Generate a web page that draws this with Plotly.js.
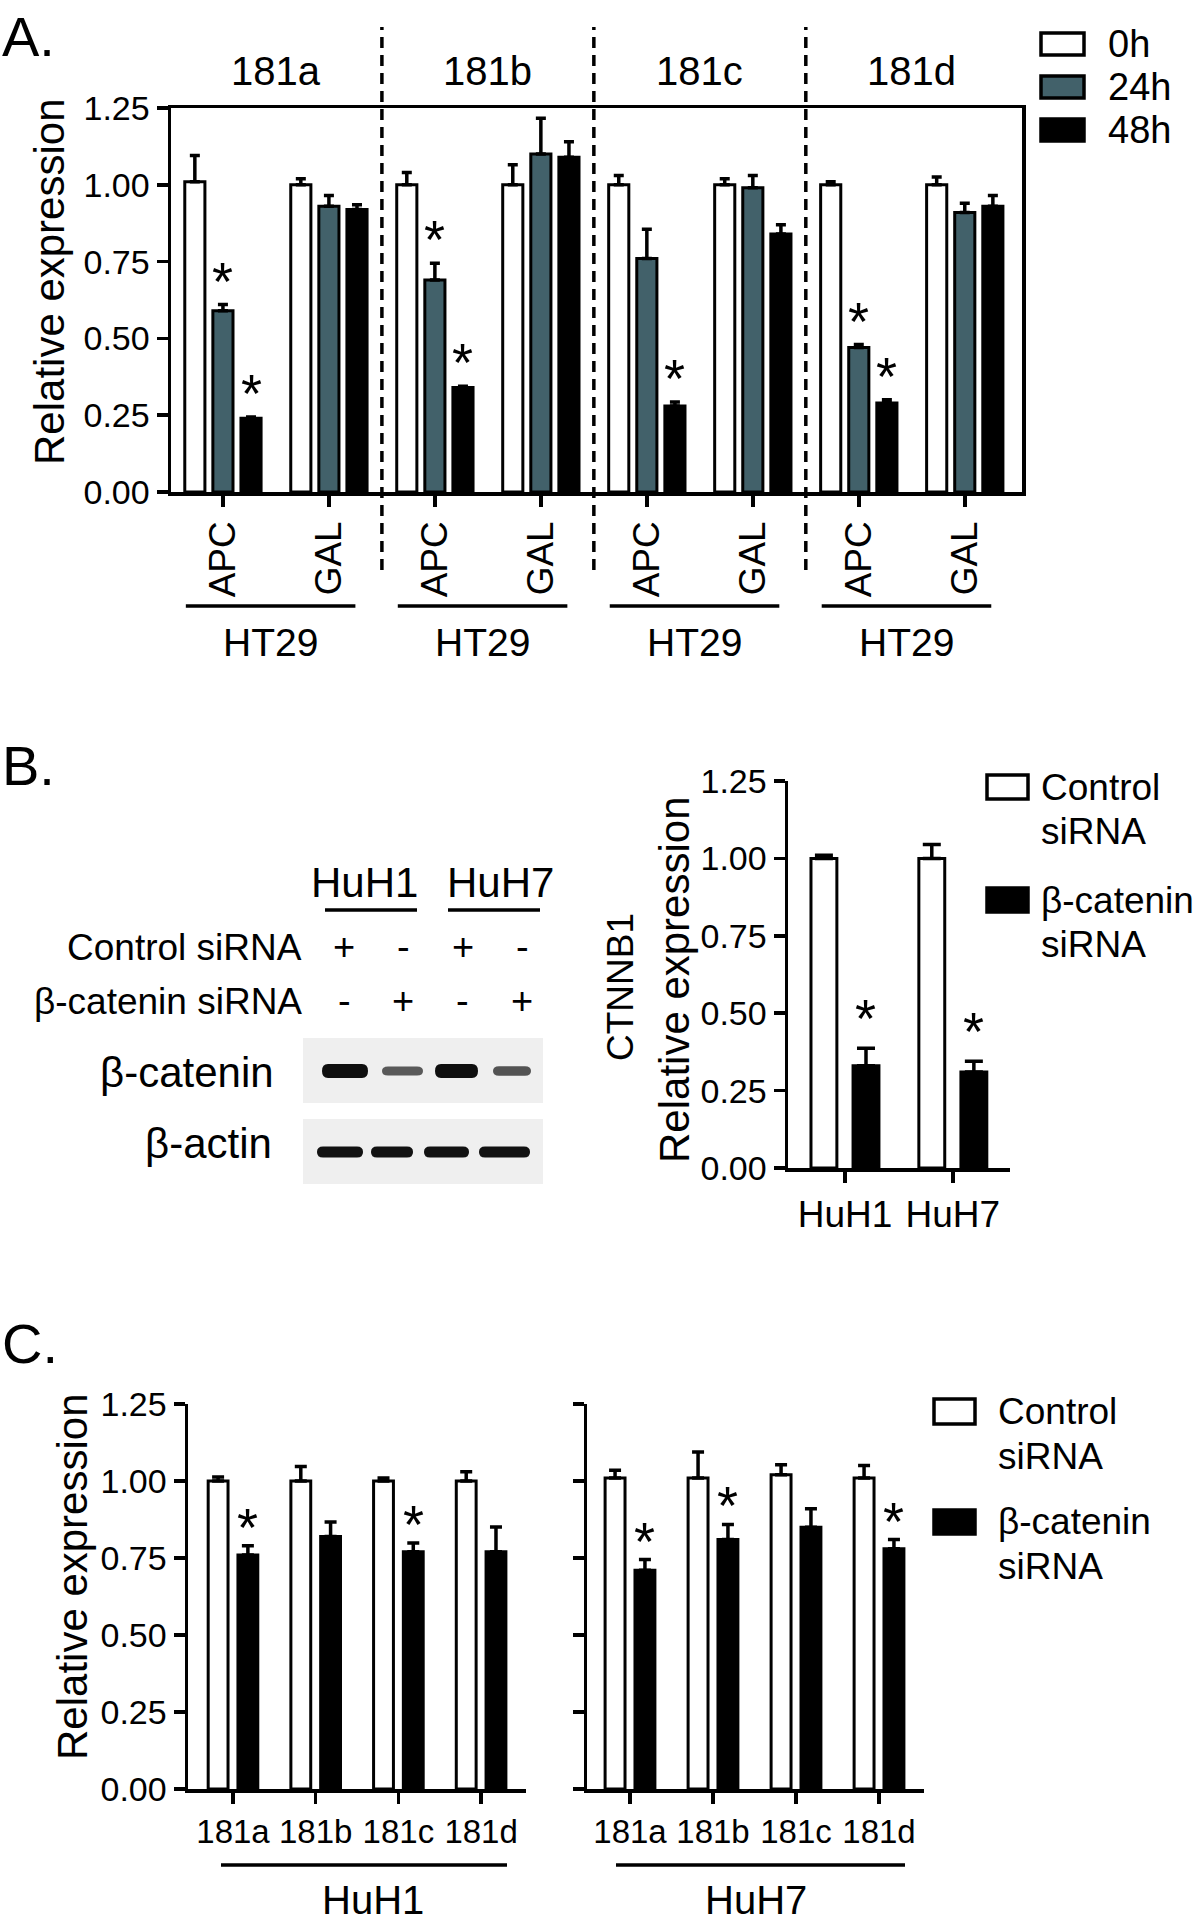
<!DOCTYPE html>
<html>
<head>
<meta charset="utf-8">
<script src="https://cdn.plot.ly/plotly-3.0.1.min.js"></script>
<style>
  body { margin: 0; background: #fff; }
  #fig { width: 1200px; height: 1928px; }
</style>
</head>
<body>
<div id="fig"></div>
<script>
// ---- A. HT29, miR-181a..d, APC / GAL over time ----
const aMirs = ["181a", "181b", "181c", "181d"];
const aGenes = ["APC", "GAL", "APC", "GAL", "APC", "GAL", "APC", "GAL"];
const aCell = "HT29";
const aTimes = ["0h", "24h", "48h"];
const a0h = [1.01, 1.00, 1.00, 1.00, 1.00, 1.00, 1.00, 1.00];
const a0hErr = [0.085, 0.02, 0.04, 0.065, 0.03, 0.02, 0.01, 0.025];
const a24h = [0.59, 0.93, 0.69, 1.10, 0.76, 0.99, 0.47, 0.91];
const a24hErr = [0.02, 0.035, 0.055, 0.117, 0.095, 0.04, 0.01, 0.03];
const a48h = [0.24, 0.92, 0.34, 1.09, 0.28, 0.84, 0.29, 0.93];
const a48hErr = [0.004, 0.015, 0.004, 0.05, 0.013, 0.03, 0.01, 0.035];
const a24hSig = [1, 0, 1, 0, 0, 0, 1, 0];
const a48hSig = [1, 0, 1, 0, 1, 0, 1, 0];

// ---- B. CTNNB1 knockdown ----
const bCells = ["HuH1", "HuH7"];
const bCtrl = [1.00, 1.00];
const bCtrlErr = [0.01, 0.045];
const bCat = [0.33, 0.31];
const bCatErr = [0.057, 0.035];
const bCatSig = [1, 1];
const blotCtrl = ["+", "-", "+", "-"];
const blotCat = ["-", "+", "-", "+"];
const cateninBand = [1.0, 0.45, 1.0, 0.5];
const actinBand = [1.0, 1.0, 1.0, 1.0];

// ---- C. miR-181 after beta-catenin siRNA ----
const cMirs = ["181a", "181b", "181c", "181d"];
const huh1Ctrl = [1.00, 1.00, 1.00, 1.00];
const huh1CtrlErr = [0.013, 0.047, 0.01, 0.03];
const huh1Cat = [0.76, 0.82, 0.77, 0.77];
const huh1CatErr = [0.03, 0.047, 0.029, 0.081];
const huh1Sig = [1, 0, 1, 0];
const huh7Ctrl = [1.01, 1.01, 1.02, 1.01];
const huh7CtrlErr = [0.025, 0.084, 0.033, 0.04];
const huh7Cat = [0.71, 0.81, 0.85, 0.78];
const huh7CatErr = [0.035, 0.049, 0.06, 0.03];
const huh7Sig = [1, 1, 0, 1];
const siLegend = ["Control<br>siRNA", "β-catenin<br>siRNA"];

const W = 1200, H = 1928;
const fx = p => p / W;
const fy = p => 1 - p / H;
const FONT = "Liberation Sans, Arial, sans-serif";
const SLATE = "#42616a";
const LW = 3.5;

const traces = [];
const shapes = [];
const annotations = [];

function addBars(xa, ya, ys, errs, color, center, width, capW) {
  traces.push({
    type: "bar", xaxis: xa, yaxis: ya,
    x: ys.map((_, i) => i), y: ys,
    offset: center - width / 2, width: width,
    marker: { color: color, line: { color: "#000", width: 3 } },
    error_y: {
      type: "data", symmetric: false, array: errs,
      arrayminus: ys.map(() => 0), color: "#000", thickness: 3.5, width: capW
    },
    showlegend: false, hoverinfo: "skip"
  });
}

function addStars(xa, ya, ys, errs, sig, center, lift) {
  ys.forEach((v, i) => {
    if (!sig[i]) return;
    annotations.push({
      xref: xa, yref: ya, x: i + center, y: v + errs[i], text: "*",
      showarrow: false, yanchor: "middle", yshift: lift, font: { size: 54 }
    });
  });
}

function label(text, x, y, size, anchor, angle) {
  annotations.push({
    xref: "paper", yref: "paper", x: fx(x), y: fy(y), text: text,
    showarrow: false, xanchor: anchor || "center", yanchor: "middle",
    textangle: angle || 0, font: { size: size }
  });
}

function hline(x0, x1, y) {
  shapes.push({ type: "line", xref: "paper", yref: "paper", x0: fx(x0), x1: fx(x1),
    y0: fy(y), y1: fy(y), line: { color: "#000", width: LW } });
}

function box(x0, x1, y0, y1, fill, lw) {
  shapes.push({ type: "rect", xref: "paper", yref: "paper", x0: fx(x0), x1: fx(x1),
    y0: fy(y1), y1: fy(y0), fillcolor: fill,
    line: { color: "#000", width: lw === undefined ? 3 : lw } });
}

// blot band with rounded ends, drawn in paper coordinates
function band(x0, x1, yc, h, fill) {
  const r = Math.min(6, (x1 - x0) / 4);
  const t = yc - h / 2, b = yc + h / 2;
  const P = (x, y) => fx(x) + "," + fy(y);
  const d = "M" + P(x0, yc) + " Q" + P(x0, t) + " " + P(x0 + r, t) + " L" + P(x1 - r, t) +
    " Q" + P(x1, t) + " " + P(x1, yc) + " Q" + P(x1, b) + " " + P(x1 - r, b) +
    " L" + P(x0 + r, b) + " Q" + P(x0, b) + " " + P(x0, yc) + " Z";
  shapes.push({ type: "path", xref: "paper", yref: "paper", path: d, fillcolor: fill, line: { width: 0 } });
}

// Panel A bars
addBars("x", "y", a0h, a0hErr, "#ffffff", -0.265, 0.19, 5);
addBars("x", "y", a24h, a24hErr, SLATE, 0, 0.19, 5);
addBars("x", "y", a48h, a48hErr, "#000000", 0.265, 0.19, 5);
addStars("x", "y", a24h, a24hErr, a24hSig, 0, 24);
addStars("x", "y", a48h, a48hErr, a48hSig, 0.265, 24);

aMirs.forEach((m, i) => {
  annotations.push({ xref: "x", yref: "paper", x: 2 * i + 0.5, y: fy(71), text: m,
    showarrow: false, yanchor: "middle", font: { size: 40 } });
  annotations.push({ xref: "x", yref: "paper", x: 2 * i + 0.45, y: fy(643), text: aCell,
    showarrow: false, yanchor: "middle", font: { size: 39 } });
  shapes.push({ type: "line", xref: "x", yref: "paper", x0: 2 * i - 0.35, x1: 2 * i + 1.25,
    y0: fy(606), y1: fy(606), line: { color: "#000", width: LW } });
  if (i < 3) {
    shapes.push({ type: "line", xref: "x", yref: "paper", x0: 2 * i + 1.5, x1: 2 * i + 1.5,
      y0: fy(570), y1: fy(27), line: { color: "#000", width: LW, dash: "11px,7px" } });
  }
});
label("A.", 0, 36, 56, "left");
label("Relative expression", 49, 282, 42, "center", -90);
[["#ffffff", 33], [SLATE, 76], ["#000000", 119]].forEach((s, i) => {
  box(1041, 1084, s[1], s[1] + 22, s[0], LW);
  label(aTimes[i], 1106, s[1] + 11, 38, "left");
});

// Panel B bars
addBars("x2", "y2", bCtrl, bCtrlErr, "#ffffff", -0.195, 0.24, 9);
addBars("x2", "y2", bCat, bCatErr, "#000000", 0.195, 0.24, 9);
addStars("x2", "y2", bCat, bCatErr, bCatSig, 0.195, 30);
label("B.", 0, 766, 56, "left");
label("CTNNB1", 621, 987, 37, "center", -90);
label("Relative expression", 674, 980, 42, "center", -90);

// Panel B blot
label("HuH1", 364, 883, 42);
label("HuH7", 500, 883, 42);
hline(325, 417, 910);
hline(448, 540, 910);
label("Control siRNA", 304, 947, 37, "right");
label("β-catenin siRNA", 304, 1001, 37, "right");
const laneX = [344, 403, 463, 522];
blotCtrl.forEach((s, i) => label(s, laneX[i], 947, 38));
blotCat.forEach((s, i) => label(s, laneX[i], 1001, 38));
label("β-catenin", 276, 1072, 42, "right");
label("β-actin", 274, 1143, 42, "right");
box(303, 543, 1038, 1103, "#efefef", 0);
box(303, 543, 1119, 1184, "#efefef", 0);
const catLanes = [[322, 368], [382, 423], [435, 478], [493, 531]];
const actLanes = [[317, 363], [371, 413], [424, 469], [479, 530]];
cateninBand.forEach((v, i) => {
  const g = Math.round(150 - v * 135), h = 5 + 9 * v;
  band(catLanes[i][0], catLanes[i][1], 1071, h, "rgb(" + g + "," + g + "," + g + ")");
});
actinBand.forEach((v, i) => {
  const g = Math.round(150 - v * 132), h = 11 * v;
  band(actLanes[i][0], actLanes[i][1], 1152, h, "rgb(" + g + "," + g + "," + g + ")");
});
// legend B
box(987, 1028, 775, 799, "#ffffff", LW);
box(987, 1028, 888, 912, "#000000", LW);
siLegend.forEach((t, k) => {
  t.split("<br>").forEach((line, j) => label(line, 1039, [787, 900][k] + 44 * j, 37, "left"));
});

// Panel C bars
addBars("x3", "y3", huh1Ctrl, huh1CtrlErr, "#ffffff", -0.18, 0.24, 6);
addBars("x3", "y3", huh1Cat, huh1CatErr, "#000000", 0.18, 0.24, 6);
addStars("x3", "y3", huh1Cat, huh1CatErr, huh1Sig, 0.18, 19);
addBars("x4", "y4", huh7Ctrl, huh7CtrlErr, "#ffffff", -0.18, 0.24, 6);
addBars("x4", "y4", huh7Cat, huh7CatErr, "#000000", 0.18, 0.24, 6);
addStars("x4", "y4", huh7Cat, huh7CatErr, huh7Sig, 0.18, 19);
label("C.", 0, 1343, 56, "left");
label("Relative expression", 72, 1577, 42, "center", -90);
hline(221, 507, 1865);
hline(616, 905, 1865);
label("HuH1", 373, 1900, 40);
label("HuH7", 756, 1900, 40);
box(934, 975, 1399, 1424, "#ffffff", LW);
box(934, 975, 1510, 1534, "#000000", LW);
siLegend.forEach((t, k) => {
  t.split("<br>").forEach((line, j) => label(line, 996, [1411, 1521][k] + 45 * j, 37, "left"));
});

const yTicks = [0, 0.25, 0.5, 0.75, 1.0, 1.25];
function yAxis(top, bottom, anchor, mirror, showLabels) {
  return {
    domain: [fy(bottom), fy(top)], range: [0, 1.25], anchor: anchor,
    tickvals: yTicks, tickformat: ".2f", ticks: "outside", ticklen: 11, tickwidth: LW,
    showline: true, linewidth: LW, linecolor: "#000", tickcolor: "#000", mirror: mirror,
    showgrid: false, zeroline: false, showticklabels: showLabels, tickfont: { size: 34 }
  };
}
function xAxis(left, right, range, labels, anchor, mirror, size, angle) {
  return {
    domain: [fx(left), fx(right)], range: range, anchor: anchor,
    tickvals: labels.map((_, i) => i), ticktext: labels, tickangle: angle,
    ticks: "outside", ticklen: 11, tickwidth: LW,
    showline: true, linewidth: LW, linecolor: "#000", tickcolor: "#000", mirror: mirror,
    showgrid: false, zeroline: false, tickfont: { size: size }
  };
}

const layout = {
  width: W, height: H,
  margin: { l: 0, r: 0, t: 0, b: 0 },
  paper_bgcolor: "#ffffff", plot_bgcolor: "rgba(0,0,0,0)",
  font: { family: FONT, color: "#000", size: 34 },
  barmode: "overlay", showlegend: false,
  xaxis: xAxis(171, 1022, [-0.49, 7.54], aGenes, "y", true, 37, -90),
  yaxis: yAxis(108, 492, "x", true, true),
  xaxis2: xAxis(788, 1010, [-0.528, 1.53], bCells, "y2", false, 37, 0),
  yaxis2: yAxis(781, 1168, "x2", false, true),
  xaxis3: xAxis(188, 526, [-0.544, 3.543], cMirs, "y3", false, 33, 0),
  yaxis3: yAxis(1404, 1789, "x3", false, true),
  xaxis4: xAxis(587, 924, [-0.518, 3.542], cMirs, "y4", false, 33, 0),
  yaxis4: yAxis(1404, 1789, "x4", false, false),
  shapes: shapes,
  annotations: annotations
};

Plotly.newPlot("fig", traces, layout, { displayModeBar: false, staticPlot: true });
</script>
</body>
</html>
